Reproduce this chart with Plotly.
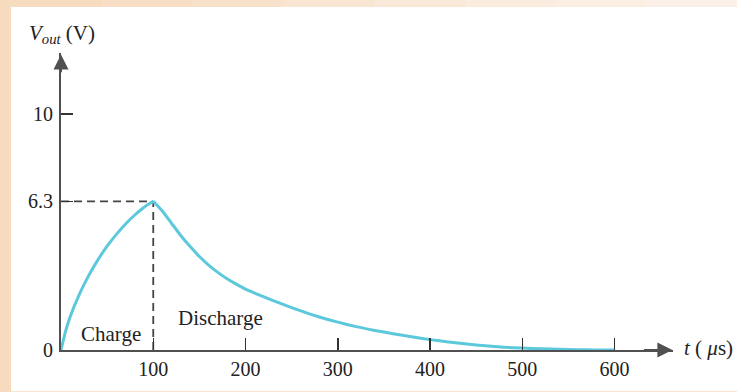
import plotly.graph_objects as go

# ---- data ----
t_charge = [0, 5, 10, 20, 30, 40, 50, 60, 70, 80, 90, 100]
v_charge = [0, 0.8, 1.42, 2.37, 3.15, 3.82, 4.40, 4.90, 5.34, 5.72, 6.05, 6.3]

t_discharge = [100, 110, 120, 130, 140, 150, 160, 170, 180, 190, 200, 220, 240, 260,
               280, 300, 320, 340, 360, 380, 400, 420, 440, 460, 480, 500, 520, 540,
               560, 580, 600]
v_discharge = [6.3, 5.88, 5.36, 4.84, 4.38, 3.96, 3.60, 3.29, 3.02, 2.79, 2.58, 2.25, 1.94,
               1.66, 1.40, 1.18, 0.99, 0.83, 0.69, 0.56, 0.44, 0.34, 0.25, 0.18, 0.12,
               0.08, 0.05, 0.03, 0.015, 0.005, 0.0]

peak_t = 100
peak_v = 6.3

x_ticks = [100, 200, 300, 400, 500, 600]
x_ticktext = ["100", "200", "300", "400", "500", "600"]
y_ticks = [0, 6.3, 10]
y_ticktext = ["0", "6.3", "10"]

# ---- styling ----
CURVE = "#5CC8DC"
AXIS = "#505050"
DASH = "#444444"
TXT = "#222222"
FONT = "Liberation Serif"
PEACH = "#F6DBBF"

W, H = 737, 392
ML, MR, MT, MB = 61, 64, 53, 37
PW, PH = W - ML - MR, H - MT - MB
XMAX = PW / 0.9225
YMAX = PH / 24.0


def px_to_paper_x(px):
    return (px - ML) / PW


def py_to_paper_y(py):
    return (H - MB - py) / PH


fig = go.Figure()

# dashed guide lines to the peak
fig.add_trace(go.Scatter(x=[0, peak_t], y=[peak_v, peak_v], mode="lines",
                         line=dict(color=DASH, width=1.8, dash="8px,5px"),
                         hoverinfo="skip", showlegend=False, cliponaxis=False))
fig.add_trace(go.Scatter(x=[peak_t, peak_t], y=[0, peak_v], mode="lines",
                         line=dict(color=DASH, width=1.8, dash="8px,5px"),
                         hoverinfo="skip", showlegend=False, cliponaxis=False))

# charge / discharge curves
fig.add_trace(go.Scatter(x=t_charge, y=v_charge, mode="lines",
                         line=dict(color=CURVE, width=3, shape="spline", smoothing=0.5),
                         showlegend=False, cliponaxis=False))
fig.add_trace(go.Scatter(x=t_discharge, y=v_discharge, mode="lines",
                         line=dict(color=CURVE, width=3, shape="spline", smoothing=0.5),
                         showlegend=False, cliponaxis=False))

shapes = []
# white card over peach border
shapes.append(dict(type="rect", xref="paper", yref="paper", layer="below",
                   x0=px_to_paper_x(11), x1=px_to_paper_x(W + 5),
                   y0=py_to_paper_y(H + 5), y1=py_to_paper_y(6),
                   fillcolor="white", line=dict(width=0)))
# top strip fading to the right
fade = ["#F6DBBF", "#F7DEC5", "#F8E2CB", "#F9E6D2", "#FAE9D8", "#FAECDE", "#FBEFE4", "#FBF1E9"]
n = len(fade)
for i, c in enumerate(fade):
    x0 = 11 + (W - 11) * i / n
    x1 = 11 + (W - 11) * (i + 1) / n + 1
    shapes.append(dict(type="rect", xref="paper", yref="paper", layer="below",
                       x0=px_to_paper_x(x0), x1=px_to_paper_x(x1),
                       y0=py_to_paper_y(6), y1=py_to_paper_y(-2),
                       fillcolor=c, line=dict(width=0)))

annotations = [
    # axis arrowheads
    dict(x=XMAX * 0.999, y=0, ax=XMAX * 0.95, ay=0, xref="x", yref="y", axref="x", ayref="y",
         showarrow=True, arrowhead=2, arrowsize=1.5, arrowwidth=2, arrowcolor=AXIS, text=""),
    dict(x=0, y=YMAX * 0.995, ax=0, ay=YMAX * 0.93, xref="x", yref="y", axref="x", ayref="y",
         showarrow=True, arrowhead=2, arrowsize=1.5, arrowwidth=2, arrowcolor=AXIS, text=""),
    # region labels
    dict(x=(110.5 - ML) / 0.9225, y=(H - MB - 339) / 24.0, xref="x", yref="y",
         text="Charge", showarrow=False, font=dict(family=FONT, size=21, color=TXT)),
    dict(x=(220 - ML) / 0.9225, y=(H - MB - 322) / 24.0, xref="x", yref="y",
         text="Discharge", showarrow=False, font=dict(family=FONT, size=21, color=TXT)),
    # axis titles
    dict(x=px_to_paper_x(62), y=py_to_paper_y(34), xref="paper", yref="paper",
         text="<i>V</i><sub><i>out</i></sub> (V)", showarrow=False,
         xanchor="center", yanchor="middle", font=dict(family=FONT, size=21, color=TXT)),
    dict(x=px_to_paper_x(682), y=py_to_paper_y(353), xref="paper", yref="paper",
         text="<i>t</i> ( <i>\u03bc</i>s)", showarrow=False,
         xanchor="left", yanchor="middle", font=dict(family=FONT, size=21, color=TXT)),
]

fig.update_layout(
    width=W, height=H,
    margin=dict(l=ML, r=MR, t=MT, b=MB, pad=0),
    paper_bgcolor=PEACH,
    plot_bgcolor="rgba(0,0,0,0)",
    shapes=shapes,
    annotations=annotations,
    hovermode=False,
    font=dict(family=FONT, size=20, color=TXT),
    xaxis=dict(range=[0, XMAX], showgrid=False, zeroline=False,
               showline=True, linecolor=AXIS, linewidth=2,
               tickvals=x_ticks, ticktext=x_ticktext,
               ticks="inside", ticklen=12, tickwidth=1.5, tickcolor="#333333",
               tickfont=dict(family=FONT, size=20, color=TXT), fixedrange=True),
    yaxis=dict(range=[0, YMAX], showgrid=False, zeroline=False,
               showline=True, linecolor=AXIS, linewidth=2,
               tickvals=y_ticks, ticktext=y_ticktext, ticklabelstandoff=2,
               ticks="inside", ticklen=12, tickwidth=1.5, tickcolor="#333333",
               tickfont=dict(family=FONT, size=20, color=TXT), fixedrange=True),
)

fig.write_html(
    "out.html",
    config={"displayModeBar": False, "staticPlot": True},
    post_script="document.body.style.margin='0';document.body.style.overflow='hidden';",
)
